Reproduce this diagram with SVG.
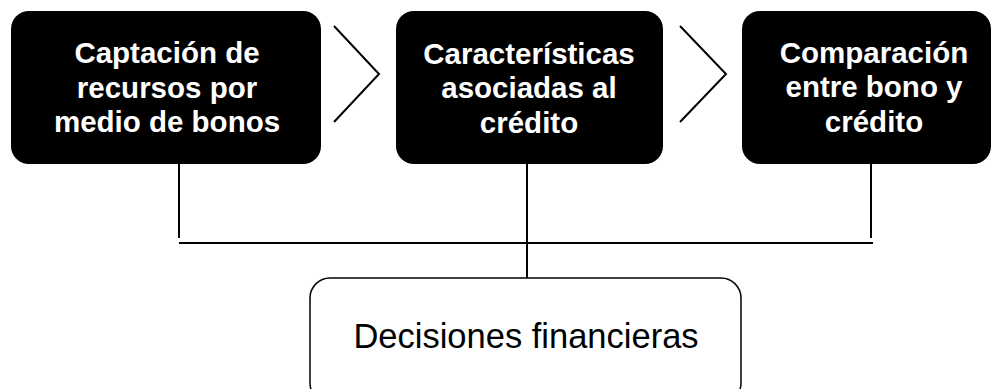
<svg xmlns="http://www.w3.org/2000/svg" width="1000" height="389" viewBox="0 0 1000 389">
<style>
.box{fill:#000}
.t{font-family:"Liberation Sans",Arial,sans-serif;font-weight:bold;font-size:29.5px;fill:#fff;text-anchor:middle}
.d{font-family:"Liberation Sans",Arial,sans-serif;font-size:34.5px;fill:#000;text-anchor:middle}
.ln{stroke:#000;stroke-width:2;fill:none}
</style>
<rect width="1000" height="389" fill="#fff"/>
<g id="connectors">
<polyline class="ln" points="334,26 379,74 334,122"/>
<polyline class="ln" points="680,26 726,74 680,122"/>
<line class="ln" x1="179" y1="164" x2="179" y2="238"/>
<line class="ln" x1="871" y1="164" x2="871" y2="238"/>
<line class="ln" x1="179" y1="243" x2="873" y2="243"/>
<line class="ln" x1="527" y1="164" x2="527" y2="278"/>
</g>
<g id="node1">
<rect class="box" x="11" y="11" width="310" height="153" rx="18"/>
<text class="t" x="167" y="63">Captación de</text>
<text class="t" x="167" y="98">recursos por</text>
<text class="t" x="167" y="132">medio de bonos</text>
</g>
<g id="node2">
<rect class="box" x="396" y="11" width="267" height="153" rx="18"/>
<text class="t" x="529" y="64">Características</text>
<text class="t" x="529" y="98">asociadas al</text>
<text class="t" x="529" y="133">crédito</text>
</g>
<g id="node3">
<rect class="box" x="742" y="11" width="249" height="153" rx="18"/>
<text class="t" x="874" y="63">Comparación</text>
<text class="t" x="874" y="97">entre bono y</text>
<text class="t" x="874" y="132">crédito</text>
</g>
<g id="node4">
<rect x="310" y="278" width="431" height="125" rx="20" fill="#fff" stroke="#000" stroke-width="1.5"/>
<text class="d" x="526" y="348">Decisiones financieras</text>
</g>
</svg>
